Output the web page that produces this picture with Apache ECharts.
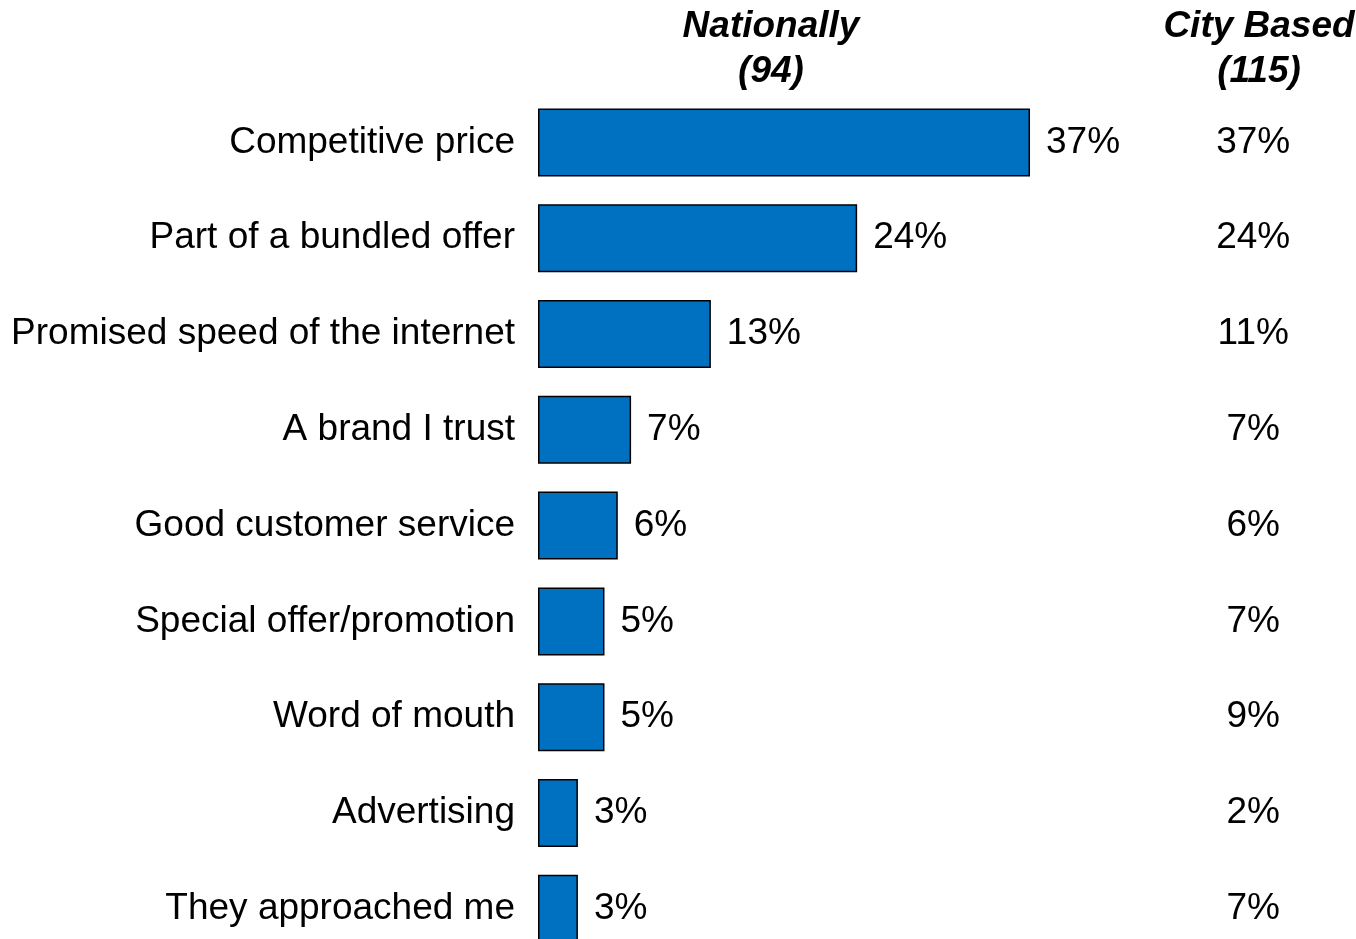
<!DOCTYPE html>
<html>
<head>
<meta charset="utf-8">
<script src="https://cdn.jsdelivr.net/npm/echarts@6/dist/echarts.min.js"></script>
<style>html,body{margin:0;padding:0;background:#fff}#c{width:1356px;height:939px}</style>
</head>
<body>
<div id="c"></div>
<script>
const categories = ["Competitive price","Part of a bundled offer","Promised speed of the internet","A brand I trust","Good customer service","Special offer/promotion","Word of mouth","Advertising","They approached me"];
const nationally = [37,24,13,7,6,5,5,3,3];
const cityBased = [37,24,11,7,6,7,9,2,7];
const headerNational = "Nationally\n(94)";
const headerCity = "City Based\n(115)";

const FONT = "Liberation Sans, Arial, sans-serif";
const chart = echarts.init(document.getElementById('c'));
chart.setOption({
  backgroundColor: '#fff',
  animation: false,
  title: [
    {text: headerNational, left: 766, top: -1, textAlign: 'center',
     textStyle: {fontFamily: FONT, fontSize: 37, fontWeight: 'bold', fontStyle: 'italic', color: '#000', lineHeight: 45}},
    {text: headerCity, left: 1254, top: -1, textAlign: 'center',
     textStyle: {fontFamily: FONT, fontSize: 37, fontWeight: 'bold', fontStyle: 'italic', color: '#000', lineHeight: 45}}
  ],
  grid: {left: 538, right: 139.8, top: 94.6, height: 862, outerBoundsMode: 'none', containLabel: false},
  xAxis: {type: 'value', min: 0, max: 51, show: false},
  yAxis: [
    {type: 'category', data: categories, inverse: true,
     axisLine: {show: false}, axisTick: {show: false},
     axisLabel: {fontFamily: FONT, fontSize: 37, color: '#000', margin: 23, padding: [5, 0, 0, 0]}},
    {type: 'category', data: cityBased.map(v => v + '%'), inverse: true, position: 'right',
     axisLine: {show: false}, axisTick: {show: false},
     axisLabel: {fontFamily: FONT, fontSize: 37, color: '#000', margin: 37, align: 'center', padding: [5, 0, 0, 0]}}
  ],
  series: [{
    type: 'bar', data: nationally, barCategoryGap: '29%',
    itemStyle: {color: '#0070C0', borderColor: '#000', borderWidth: 1.5},
    label: {show: true, position: 'right', distance: 16, formatter: p => p.value + '%',
      fontFamily: FONT, fontSize: 37, color: '#000', padding: [5, 0, 0, 0]}
  }]
});
</script>
</body>
</html>
